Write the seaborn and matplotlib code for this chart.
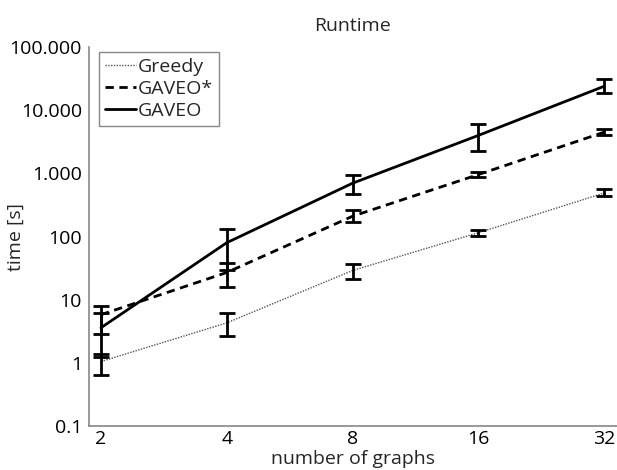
import numpy as np
import pandas as pd
import matplotlib
matplotlib.use("Agg")
import matplotlib.pyplot as plt
import seaborn as sns

# data
graphs = [2, 4, 8, 16, 32]
greedy = [1.05, 4.3, 29, 115, 490]
greedy_lo = [0.65, 2.7, 21, 104, 440]
greedy_hi = [1.4, 6.2, 37, 128, 560]
gaveo_star = [5.8, 27, 210, 960, 4500]
gaveo_star_lo = [2.9, 16, 170, 880, 4100]
gaveo_star_hi = [8.0, 38, 260, 1060, 5100]
gaveo = [3.6, 80, 700, 4000, 24000]
gaveo_lo = [1.25, 30, 480, 2300, 19000]
gaveo_hi = [6.2, 130, 950, 6000, 31000]

series_names = ["Greedy", "GAVEO*", "GAVEO"]
ytick_vals = [0.1, 1, 10, 100, 1000, 10000, 100000]
ytick_labels = ["0.1", "1", "10", "100", "1.000", "10.000", "100.000"]

sns.set_style("white")
plt.rcParams["font.family"] = ["Open Sans", "DejaVu Sans"]

df = pd.DataFrame({
    "graphs": graphs * 3,
    "time": greedy + gaveo_star + gaveo,
    "method": [n for n in series_names for _ in graphs],
})

fig = plt.figure(figsize=(6.17, 4.70), dpi=100)
ax = fig.add_axes([0.1442, 0.0936, 0.8558, 0.806])

styles = {"Greedy": (0, (1, 1)), "GAVEO*": (0, (3, 2)), "GAVEO": "-"}
widths = {"Greedy": 1.0, "GAVEO*": 2.0, "GAVEO": 2.0}
colors = {"Greedy": "#555555", "GAVEO*": "black", "GAVEO": "black"}
for name in series_names:
    sub = df[df["method"] == name]
    sns.lineplot(data=sub, x="graphs", y="time", ax=ax, color=colors[name],
                 linestyle=styles[name], linewidth=widths[name], label=name)

bars = [(greedy, greedy_lo, greedy_hi), (gaveo_star, gaveo_star_lo, gaveo_star_hi),
        (gaveo, gaveo_lo, gaveo_hi)]
for mid, lo, hi in bars:
    mid = np.array(mid)
    err = [mid - np.array(lo), np.array(hi) - mid]
    ax.errorbar(graphs, mid, yerr=err, fmt="none", ecolor="black",
                elinewidth=2, capsize=6, capthick=2)

ax.set_xscale("log", base=2)
ax.set_yscale("log")
ax.set_xlim(2 ** 0.9046, 2 ** 5.103)
ax.set_ylim(0.1, 100000)
ax.set_xticks(graphs)
ax.set_xticklabels([str(g) for g in graphs])
ax.xaxis.set_minor_locator(matplotlib.ticker.NullLocator())
ax.set_yticks(ytick_vals)
ax.set_yticklabels(ytick_labels)
ax.yaxis.set_minor_locator(matplotlib.ticker.LogLocator(base=10, subs=np.arange(2, 10)))
ax.yaxis.set_minor_formatter(matplotlib.ticker.NullFormatter())

ax.tick_params(axis="both", which="both", direction="in", colors="#888888",
               labelcolor="black", labelsize=14)
ax.tick_params(axis="y", which="major", length=6, pad=5)
ax.tick_params(axis="y", which="minor", length=3)
ax.tick_params(axis="x", which="major", length=6, pad=3)

for side in ["top", "right"]:
    ax.spines[side].set_visible(False)
for side in ["left", "bottom"]:
    ax.spines[side].set_color("#888888")
    ax.spines[side].set_linewidth(1.2)

ax.set_title("Runtime", fontsize=14, pad=12)
ax.set_xlabel("number of graphs", fontsize=14, va="center")
ax.xaxis.set_label_coords(0.5, -0.087)
ax.set_ylabel("time [s]", fontsize=14)
ax.yaxis.set_label_coords(-0.122, 0.5)

leg = ax.legend(loc="upper left", bbox_to_anchor=(0.019, 0.987), fontsize=14,
                handlelength=1.6, handletextpad=0.1, borderpad=0.3,
                labelspacing=0.2, borderaxespad=0.0, fancybox=False, framealpha=1)
leg.get_frame().set_edgecolor("#888888")
leg.get_frame().set_linewidth(1.0)

fig.savefig("out.png", dpi=100)
